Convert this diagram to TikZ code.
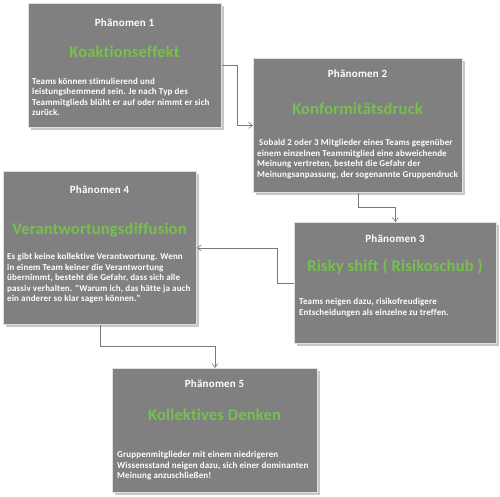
\documentclass[tikz,border=0pt]{standalone}
\usepackage{fontspec}
\setmainfont[Ligatures=NoCommon]{Carlito}
\newfontfamily\bodyfont[Ligatures=NoCommon]{Carlito}
\usetikzlibrary{calc,arrows.meta}
\definecolor{boxgray}{RGB}{128,128,128}
\definecolor{titlegreen}{RGB}{118,192,76}
\definecolor{linegray}{RGB}{120,120,120}
\tikzset{
  phbox/.style={draw=white!88!black, line width=0.8pt, fill=boxgray, anchor=north west, inner sep=0pt,
    preaction={draw=none, fill=black!22, transform canvas={xshift=2.5pt,yshift=-2.5pt}}},
  phhead/.style={text=white, font=\bfseries\fontsize{11}{13}\selectfont\addfontfeature{LetterSpace=2}, inner sep=0pt},
  phname/.style={text=titlegreen, font=\bfseries\fontsize{16.5}{19}\selectfont\addfontfeature{LetterSpace=1}, inner sep=0pt},
  phbody/.style={text=white, font=\bodyfont\bfseries\fontsize{9}{10.5}\selectfont\addfontfeature{LetterSpace=1.5}, align=left, anchor=north west, inner sep=0pt},
  conn/.style={draw=linegray, line width=0.6pt, -{Straight Barb[length=4pt,width=6pt]}}
}
\begin{document}
\begin{tikzpicture}[x=1pt,y=-1pt]
\useasboundingbox (0,0) rectangle (500,497);
% boxes
\node[phbox, minimum width=193pt, minimum height=124pt] (b1) at (28,3) {};
\node[phbox, minimum width=209pt, minimum height=134pt] (b2) at (253,58) {};
\node[phbox, minimum width=202pt, minimum height=121pt] (b3) at (294,222) {};
\node[phbox, minimum width=193pt, minimum height=153pt] (b4) at (3,171) {};
\node[phbox, minimum width=205pt, minimum height=124pt] (b5) at (112,368) {};
% box 1
\node[phhead] (h1) at (124.5,23) {Phänomen 1};
\node[phname] (n1) at (124.5,52) {Koaktionseffekt};
\node[phbody] (t1) at (32,77.5) {Teams können stimulierend und\\leistungshemmend sein. Je nach Typ des\\Teammitglieds blüht er auf oder nimmt er sich\\zurück.};
% box 2
\node[phhead] (h2) at (357.5,74) {Phänomen 2};
\node[phname] (n2) at (357.5,109) {Konformitätsdruck};
\node[phbody] (t2) at (257,139) {\hspace{2pt}Sobald 2 oder 3 Mitglieder eines Teams gegenüber\\einem einzelnen Teammitglied eine abweichende\\Meinung vertreten, besteht die Gefahr der\\Meinungsanpassung, der sogenannte Gruppendruck};
% box 3
\node[phhead] (h3) at (395,239) {Phänomen 3};
\node[phname] (n3) at (395,267) {Risky shift ( Risikoschub )};
\node[phbody] (t3) at (299,298) {Teams neigen dazu, risikofreudigere\\Entscheidungen als einzelne zu treffen.};
% box 4
\node[phhead] (h4) at (99.5,190) {Phänomen 4};
\node[phname] (n4) at (99.5,230) {Verantwortungsdiffusion};
\node[phbody] (t4) at (7,253) {Es gibt keine kollektive Verantwortung. Wenn\\in einem Team keiner die Verantwortung\\übernimmt, besteht die Gefahr, dass sich alle\\passiv verhalten. "Warum ich, das hätte ja auch\\ein anderer so klar sagen können."};
% box 5
\node[phhead] (h5) at (214.5,384) {Phänomen 5};
\node[phname] (n5) at (214.5,415) {Kollektives Denken};
\node[phbody] (t5) at (117,451) {Gruppenmitglieder mit einem niedrigeren\\Wissensstand neigen dazu, sich einer dominanten\\Meinung anzuschließen!};
% connectors
\draw[conn] (b1.east) -| ($(b1.east)!.5!(b2.west)$) |- (b2.west);
\draw[conn] (b2.south) |- ($(b2.south)!.5!(b3.north)$) -| (b3.north);
\draw[conn] (b3.west) -- ++(-17,0) |- (b4.east);
\draw[conn] (b4.south) |- ($(b4.south)!.5!(b5.north)$) -| (b5.north);
\end{tikzpicture}
\end{document}
